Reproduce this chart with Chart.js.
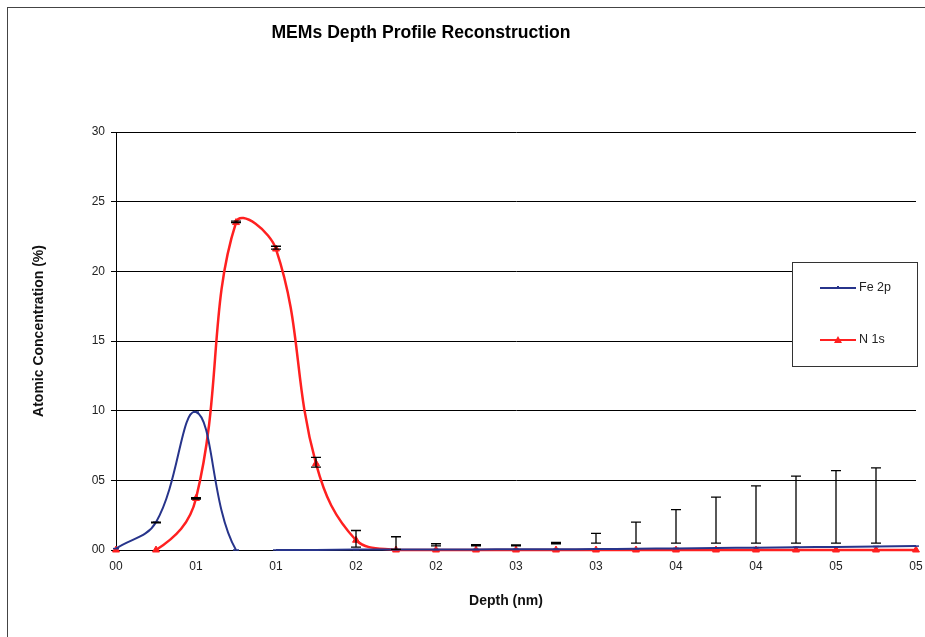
<!DOCTYPE html>
<html>
<head>
<meta charset="utf-8">
<title>MEMs Depth Profile Reconstruction</title>
<script src="https://cdn.jsdelivr.net/npm/chart.js@4.4.0/dist/chart.umd.min.js"></script>
<style>
  html, body { margin: 0; padding: 0; background: #fff; }
  #wrap { position: relative; width: 925px; height: 637px; }
</style>
</head>
<body>
<div id="wrap"><canvas id="depthChart" width="925" height="637"></canvas></div>
<script>
  // Depth steps (nm) and the rounded tick labels the original axis shows
  const depth = [0, 0.025, 0.05, 0.075, 0.1, 0.125, 0.15, 0.175, 0.2, 0.225, 0.25,
                 0.275, 0.3, 0.325, 0.35, 0.375, 0.4, 0.425, 0.45, 0.475, 0.5];
  const xTickLabels = ['00', '01', '01', '02', '02', '03', '03', '04', '04', '05', '05'];
  const yTickLabels = ['00', '05', '10', '15', '20', '25', '30'];

  // Atomic concentration (%)
  const fe2p = [0.1, 2.0, 9.9, 0, 0, 0, 0.03, 0.03, 0.03, 0.04, 0.05, 0.05,
                0.07, 0.09, 0.11, 0.14, 0.17, 0.2, 0.22, 0.25, 0.28];
  const n1s = [0, 0, 3.7, 23.5, 21.6, 6.2, 0.7, 0, 0, 0, 0, 0,
               0, 0, 0, 0, 0, 0, 0, 0, 0];

  // Error bars (low / high ends)
  const errLow = [null, 1.95, 3.65, 23.5, 21.6, 5.95, 0.2, 0.05, 0.3, 0.3, 0.3, 0.45,
                  0.5, 0.5, 0.5, 0.5, 0.5, 0.5, 0.5, 0.5, null];
  const errHigh = [null, 2.0, 3.75, 23.6, 21.8, 6.65, 1.4, 0.95, 0.45, 0.38, 0.36, 0.55,
                   1.2, 2.0, 2.9, 3.8, 4.6, 5.3, 5.7, 5.9, null];

  const BLUE = '#27348b';
  const RED = '#ff2020';
  const FONT = 'Liberation Sans, Arial, sans-serif';

  // Frame, titles, error bars and the boxed legend
  const decorations = {
    id: 'decorations',
    beforeDraw(chart) {
      const ctx = chart.ctx;
      ctx.save();
      ctx.fillStyle = '#fff';
      ctx.fillRect(0, 0, chart.width, chart.height);
      ctx.strokeStyle = '#444';
      ctx.lineWidth = 1;
      ctx.strokeRect(7.5, 7.5, chart.width + 20, chart.height + 20);
      ctx.restore();
    },
    afterDatasetsDraw(chart) {
      const ctx = chart.ctx;
      const x = chart.scales.x;
      const y = chart.scales.y;
      ctx.save();
      ctx.strokeStyle = '#000';
      ctx.lineWidth = 1.3;
      errHigh.forEach((hi, i) => {
        if (hi === null) return;
        const px = x.getPixelForValue(i);
        const top = y.getPixelForValue(hi);
        const bot = y.getPixelForValue(errLow[i]);
        ctx.beginPath();
        ctx.moveTo(px, top); ctx.lineTo(px, bot);
        ctx.moveTo(px - 5, top); ctx.lineTo(px + 5, top);
        ctx.moveTo(px - 5, bot); ctx.lineTo(px + 5, bot);
        ctx.stroke();
      });
      ctx.restore();
    },
    afterDraw(chart) {
      const ctx = chart.ctx;
      ctx.save();
      // chart title
      ctx.fillStyle = '#000';
      ctx.font = 'bold 17.6px ' + FONT;
      ctx.textAlign = 'center';
      ctx.textBaseline = 'middle';
      ctx.fillText('MEMs Depth Profile Reconstruction', 421, 33);

      // axis titles
      ctx.fillStyle = '#111';
      ctx.font = 'bold 14px ' + FONT;
      ctx.fillText('Depth (nm)', 506, 601);
      ctx.save();
      ctx.translate(39, 331);
      ctx.rotate(-Math.PI / 2);
      ctx.fillText('Atomic Concentration (%)', 0, 0);
      ctx.restore();

      // legend box
      ctx.fillStyle = '#fff';
      ctx.fillRect(792, 262, 126, 105);
      ctx.strokeStyle = '#333';
      ctx.lineWidth = 1;
      ctx.strokeRect(792.5, 262.5, 125, 104);
      const items = [
        { label: chart.data.datasets[0].label, color: BLUE, y: 288, tri: false },
        { label: chart.data.datasets[1].label, color: RED, y: 340, tri: true }
      ];
      ctx.font = '12.5px ' + FONT;
      ctx.textAlign = 'left';
      items.forEach(it => {
        ctx.strokeStyle = it.color;
        ctx.lineWidth = 2;
        ctx.beginPath();
        ctx.moveTo(820, it.y); ctx.lineTo(856, it.y);
        ctx.stroke();
        ctx.fillStyle = it.color;
        if (it.tri) {
          ctx.beginPath();
          ctx.moveTo(838, it.y - 4); ctx.lineTo(842, it.y + 3); ctx.lineTo(834, it.y + 3);
          ctx.closePath();
          ctx.fill();
        } else {
          ctx.fillRect(837, it.y - 2, 2, 3);
        }
        ctx.fillStyle = '#222';
        ctx.fillText(it.label, 859, it.y);
      });
      ctx.restore();
    }
  };

  const ctx = document.getElementById('depthChart').getContext('2d');
  const depthChart = new Chart(ctx, {
    type: 'line',
    data: {
      labels: depth,
      datasets: [
        {
          label: 'Fe 2p',
          data: fe2p,
          borderColor: BLUE,
          backgroundColor: BLUE,
          borderWidth: 2,
          tension: 0.4,
          clip: 6,
          pointStyle: 'line',
          pointRadius: 3,
          pointBorderColor: BLUE,
          pointBorderWidth: 1.5,
          segment: {
            borderColor: c => c.p0DataIndex === 3 ? 'rgba(0,0,0,0)' : undefined
          }
        },
        {
          label: 'N 1s',
          data: n1s,
          borderColor: RED,
          backgroundColor: RED,
          borderWidth: 2.5,
          tension: 0.4,
          clip: 6,
          pointStyle: 'triangle',
          pointRadius: 4,
          pointBackgroundColor: RED,
          pointBorderColor: RED,
          pointBorderWidth: 1,
          segment: {
            borderColor: c => c.p0DataIndex === 0 ? 'rgba(0,0,0,0)' : undefined
          }
        }
      ]
    },
    options: {
      responsive: false,
      animation: false,
      events: [],
      layout: { padding: { left: 0, top: 132, right: 9, bottom: 0 } },
      plugins: {
        legend: { display: false },
        title: { display: false },
        tooltip: { enabled: false }
      },
      scales: {
        x: {
          type: 'category',
          offset: false,
          afterFit: s => { s.height = 87; },
          grid: { display: false, drawTicks: true, tickLength: 7 },
          border: { display: true, color: '#000', width: 1 },
          ticks: {
            autoSkip: false,
            maxRotation: 0,
            padding: 2,
            color: '#222',
            font: { family: FONT, size: 12 },
            callback: (v, i) => i % 2 === 0 ? xTickLabels[i / 2] : ''
          }
        },
        y: {
          min: 0,
          max: 30,
          afterFit: s => { s.width = 116; },
          grid: { color: '#000', lineWidth: 1, tickLength: 5, drawTicks: true },
          border: { display: true, color: '#000', width: 1 },
          ticks: {
            stepSize: 5,
            padding: 6,
            color: '#222',
            font: { family: FONT, size: 12 },
            callback: (v, i) => yTickLabels[i]
          }
        }
      }
    },
    plugins: [decorations]
  });
</script>
</body>
</html>
